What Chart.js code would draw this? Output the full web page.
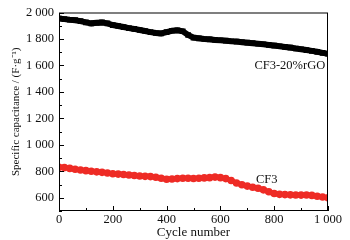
<!DOCTYPE html>
<html>
<head>
<meta charset="utf-8">
<script src="https://cdn.jsdelivr.net/npm/chart.js@4"></script>
<style>
  html, body { margin: 0; padding: 0; background: #fff; }
</style>
</head>
<body>
<canvas id="myChart" width="350" height="240"></canvas>
<script>
// data, one value every 20 cycles
var cycles = [];
for (var c = 0; c <= 1000; c += 20) cycles.push(c);

var rgoValues = [1955, 1950, 1945, 1942, 1935, 1925, 1918, 1922, 1925, 1918,
                 1905, 1898, 1890, 1882, 1876, 1868, 1860, 1852, 1845, 1842,
                 1852, 1862, 1865, 1858, 1830, 1810, 1805, 1800, 1797, 1793,
                 1790, 1787, 1783, 1780, 1776, 1772, 1768, 1764, 1760, 1755,
                 1750, 1745, 1740, 1735, 1728, 1722, 1716, 1710, 1703, 1695, 1688];

var cf3Values = [830, 828, 822, 815, 810, 805, 800, 796, 792, 787,
                 782, 779, 776, 772, 768, 764, 762, 760, 755, 748,
                 740, 742, 745, 748, 748, 746, 747, 750, 752, 756,
                 752, 745, 730, 712, 698, 688, 680, 672, 660, 645,
                 632, 626, 624, 622, 621, 620, 621, 618, 612, 606, 600];

var xTicks = [0, 200, 400, 600, 800, 1000];
var yTicks = [600, 800, 1000, 1200, 1400, 1600, 1800, 2000];

var serif = "'Liberation Serif', 'Times New Roman', serif";

function fmt(v) {
  // thousands separated by a space, like "1 000"
  return String(v).replace(/\B(?=(\d{3})+(?!\d))/g, " ");
}

function toPoints(vals) {
  return vals.map(function(v, i){ return {x: cycles[i], y: v}; });
}

// frame, inward ticks and the two curve labels
var framePlugin = {
  id: 'frame',
  afterDraw: function(chart) {
    var ctx = chart.ctx, a = chart.chartArea;
    var xs = chart.scales.x, ys = chart.scales.y;
    ctx.save();
    ctx.strokeStyle = '#000';
    ctx.lineWidth = 1;
    ctx.strokeRect(a.left + 0.5, a.top + 0.5, a.right - a.left - 1, a.bottom - a.top - 1);

    ctx.beginPath();
    for (var v = 0; v <= 1000; v += 100) {
      var px = Math.round(xs.getPixelForValue(v)) + 0.5;
      var len = (v % 200 === 0) ? 5 : 3;
      ctx.moveTo(px, a.bottom);
      ctx.lineTo(px, a.bottom - len);
    }
    for (var w = 500; w <= 2000; w += 100) {
      var py = Math.round(ys.getPixelForValue(w)) + 0.5;
      var l2 = (w % 200 === 0) ? 5 : 3;
      ctx.moveTo(a.left, py);
      ctx.lineTo(a.left + l2, py);
    }
    ctx.stroke();

    ctx.fillStyle = '#111';
    ctx.font = "12.5px " + serif;
    ctx.textAlign = 'center';
    ctx.textBaseline = 'middle';
    ctx.fillText('CF3-20%rGO', xs.getPixelForValue(858), ys.getPixelForValue(1595));
    ctx.fillText('CF3', xs.getPixelForValue(772), ys.getPixelForValue(740));
    ctx.restore();
  }
};

var ctx = document.getElementById("myChart").getContext("2d");
var myChart = new Chart(ctx, {
  type: 'line',
  data: {
    datasets: [
      {
        label: 'CF3-20%rGO',
        data: toPoints(rgoValues),
        borderColor: '#000',
        backgroundColor: '#000',
        borderWidth: 6,
        pointStyle: 'rect',
        pointRadius: 4,
        pointBorderWidth: 0
      },
      {
        label: 'CF3',
        data: toPoints(cf3Values),
        borderColor: '#ee2b25',
        backgroundColor: '#ee2b25',
        borderWidth: 5,
        pointStyle: 'circle',
        pointRadius: 3.8,
        pointBorderWidth: 0
      }
    ]
  },
  options: {
    responsive: false,
    animation: false,
    devicePixelRatio: 1,
    layout: { padding: { top: 8, right: 22, left: 0, bottom: 0 } },
    plugins: { legend: { display: false }, tooltip: { enabled: false } },
    scales: {
      x: {
        type: 'linear',
        min: 0, max: 1000,
        grid: { display: false, drawTicks: false },
        border: { display: false },
        afterBuildTicks: function(s){ s.ticks = xTicks.map(function(v){ return {value: v}; }); },
        afterFit: function(s){ s.height = 29; },
        ticks: {
          color: '#111', padding: 1, maxRotation: 0, autoSkip: false,
          font: { family: serif, size: 12.5 },
          callback: function(v){ return fmt(v); }
        },
        title: {
          display: true, text: 'Cycle number', color: '#111',
          font: { family: serif, size: 13 }, padding: { top: 0, bottom: 0 }
        }
      },
      y: {
        type: 'linear',
        min: 500, max: 2000,
        grid: { display: false, drawTicks: false },
        border: { display: false },
        afterBuildTicks: function(s){ s.ticks = yTicks.map(function(v){ return {value: v}; }); },
        afterFit: function(s){ s.width = 59; },
        ticks: {
          color: '#111', padding: 5, autoSkip: false,
          font: { family: serif, size: 12.5 },
          callback: function(v){ return fmt(v); }
        },
        title: {
          display: true, text: 'Specific capacitance / (F\u00b7g\u207b\u00b9)', color: '#111',
          font: { family: serif, size: 11 }, padding: { top: 10, bottom: 0 }
        }
      }
    }
  },
  plugins: [framePlugin]
});
</script>
</body>
</html>
